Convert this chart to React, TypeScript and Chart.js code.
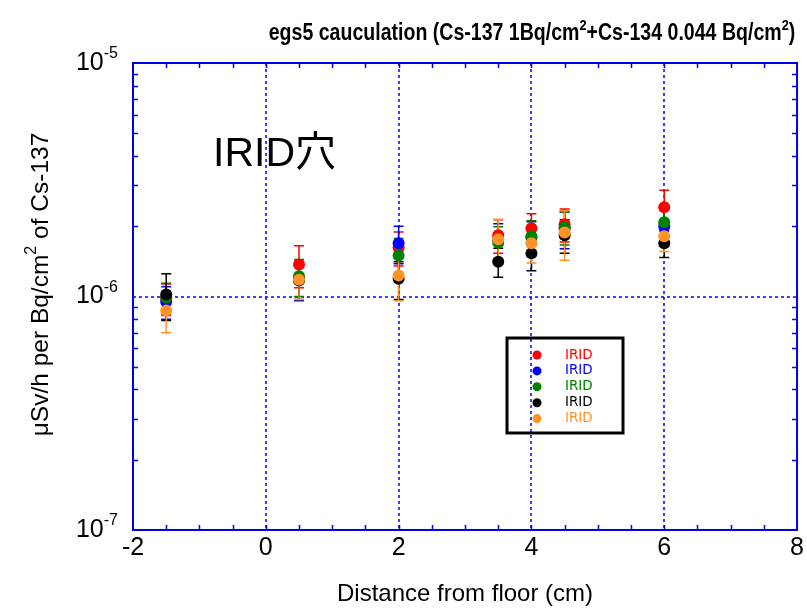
import React, { useEffect, useRef } from "react";
import { Chart, registerables } from "chart.js";

Chart.register(...registerables);

// ---- data ----
const distances = [-1.5, 0.5, 2, 3.5, 4, 4.5, 6];
const seriesLabels = ["IRID", "IRID", "IRID", "IRID", "IRID"];
const seriesColors = ["#ff0000", "#0000ff", "#008000", "#000000", "#ff9326"];
// values in units of 1e-6 µSv/h per Bq/cm2
const redValues = [0.98, 1.37, 1.62, 1.83, 1.96, 2.04, 2.41];
const blueValues = [0.95, 1.18, 1.69, 1.75, 1.79, 1.95, 2.0];
const greenValues = [0.99, 1.22, 1.5, 1.7, 1.81, 1.98, 2.08];
const blackValues = [1.02, 1.17, 1.19, 1.41, 1.53, 1.83, 1.69];
const orangeValues = [0.87, 1.18, 1.23, 1.76, 1.69, 1.88, 1.81];
const redErrors = [0.15, 0.28, 0.27, 0.3, 0.3, 0.33, 0.44];
const blueErrors = [0.15, 0.22, 0.31, 0.3, 0.3, 0.35, 0.35];
const greenErrors = [0.15, 0.22, 0.27, 0.29, 0.3, 0.32, 0.35];
const blackErrors = [0.23, 0.2, 0.22, 0.2, 0.24, 0.3, 0.22];
const orangeErrors = [0.17, 0.21, 0.27, 0.38, 0.3, 0.45, 0.25];
const unitScale = 1e-6;
const xMin = -2;
const xMax = 8;
const xStep = 2;
const xMinorStep = 0.5;
const yMin = 1e-7;
const yMax = 1e-5;
const yTickExponents = [-5, -6, -7];
const xGridValues = [0, 2, 4, 6];
const yGridValues = [1e-6];
const titleParts: [string, boolean][] = [
  ["egs5 cauculation (Cs-137 1Bq/cm", false],
  ["2", true],
  ["+Cs-134 0.044 Bq/cm", false],
  ["2", true],
  [")", false],
];
const yTitleParts: [string, boolean][] = [
  ["\u03bcSv/h per Bq/cm", false],
  ["2", true],
  [" of Cs-137", false],
];
const xTitle = "Distance from floor (cm)";
const annotationText = "IRID\u7a74";

const seriesValues = [redValues, blueValues, greenValues, blackValues, orangeValues];
const seriesErrors = [redErrors, blueErrors, greenErrors, blackErrors, orangeErrors];

const FONT = "'Liberation Sans', Arial, 'Noto Sans CJK JP', sans-serif";
const AXIS_BLUE = "#0000e6";

function drawParts(
  ctx: CanvasRenderingContext2D,
  parts: [string, boolean][],
  x: number,
  y: number,
  mainFont: string,
  supFont: string,
  supRaise: number,
  align: "left" | "center" | "right"
) {
  let total = 0;
  const widths = parts.map(([t, sup]) => {
    ctx.font = sup ? supFont : mainFont;
    const w = ctx.measureText(t).width;
    total += w;
    return w;
  });
  let cx = align === "left" ? x : align === "center" ? x - total / 2 : x - total;
  ctx.textAlign = "left";
  ctx.textBaseline = "middle";
  parts.forEach(([t, sup], i) => {
    ctx.font = sup ? supFont : mainFont;
    ctx.fillText(t, cx, sup ? y - supRaise : y);
    cx += widths[i];
  });
}

const decorPlugin = {
  id: "decor",
  beforeDatasetsDraw(chart: any) {
    const { ctx, chartArea: a, scales } = chart;
    const xs = scales.x;
    const ys = scales.y;
    ctx.save();
    // dashed grid lines
    ctx.strokeStyle = "#0000ff";
    ctx.lineWidth = 1.5;
    ctx.setLineDash([3, 3]);
    xGridValues.forEach((v) => {
      const px = Math.round(xs.getPixelForValue(v));
      ctx.beginPath();
      ctx.moveTo(px, a.top);
      ctx.lineTo(px, a.bottom);
      ctx.stroke();
    });
    yGridValues.forEach((v) => {
      const py = Math.round(ys.getPixelForValue(v));
      ctx.beginPath();
      ctx.moveTo(a.left, py);
      ctx.lineTo(a.right, py);
      ctx.stroke();
    });
    ctx.setLineDash([]);
    // error bars
    [0, 1, 2, 3, 4].forEach((si) => {
      ctx.strokeStyle = seriesColors[si];
      ctx.lineWidth = 1.5;
      distances.forEach((d, j) => {
        const v = seriesValues[si][j] * unitScale;
        const e = seriesErrors[si][j] * unitScale;
        const px = xs.getPixelForValue(d);
        const pTop = ys.getPixelForValue(v + e);
        const pBot = ys.getPixelForValue(v - e);
        ctx.beginPath();
        ctx.moveTo(px, pTop);
        ctx.lineTo(px, pBot);
        ctx.moveTo(px - 5, pTop);
        ctx.lineTo(px + 5, pTop);
        ctx.moveTo(px - 5, pBot);
        ctx.lineTo(px + 5, pBot);
        ctx.stroke();
      });
    });
    ctx.restore();
  },
  afterDatasetsDraw(chart: any) {
    const { ctx, chartArea: a, scales } = chart;
    const xs = scales.x;
    const ys = scales.y;
    ctx.save();
    // frame
    ctx.strokeStyle = AXIS_BLUE;
    ctx.lineWidth = 2;
    ctx.strokeRect(a.left, a.top, a.right - a.left, a.bottom - a.top);
    // inner ticks
    ctx.lineWidth = 1.5;
    ctx.beginPath();
    for (let v = xMin + xMinorStep; v < xMax - 1e-9; v += xMinorStep) {
      const px = Math.round(xs.getPixelForValue(v)) + 0.5;
      ctx.moveTo(px, a.bottom);
      ctx.lineTo(px, a.bottom - 5);
      ctx.moveTo(px, a.top);
      ctx.lineTo(px, a.top + 5);
    }
    for (let e = -7; e < -5; e++) {
      for (let k = 2; k <= 9; k++) {
        const py = Math.round(ys.getPixelForValue(k * Math.pow(10, e))) + 0.5;
        ctx.moveTo(a.left, py);
        ctx.lineTo(a.left + 5, py);
        ctx.moveTo(a.right, py);
        ctx.lineTo(a.right - 5, py);
      }
    }
    ctx.stroke();

    // y tick labels with superscripts
    ctx.fillStyle = "#000";
    yTickExponents.forEach((ex) => {
      const py = ys.getPixelForValue(Math.pow(10, ex));
      drawParts(
        ctx,
        [["10", false], [String(ex), true]],
        a.left - 15,
        py,
        `25px ${FONT}`,
        `16px ${FONT}`,
        9,
        "right"
      );
    });

    // y title (rotated)
    ctx.save();
    ctx.translate(41, (a.top + a.bottom) / 2 - 12);
    ctx.rotate(-Math.PI / 2);
    drawParts(ctx, yTitleParts, 0, 0, `24.5px ${FONT}`, `16px ${FONT}`, 9, "center");
    ctx.restore();

    // chart title (condensed bold)
    ctx.save();
    ctx.translate(532, 34);
    ctx.scale(0.85, 1);
    drawParts(ctx, titleParts, 0, 0, `bold 23px ${FONT}`, `bold 15px ${FONT}`, 8, "center");
    ctx.restore();

    // annotation
    ctx.font = `41px ${FONT}`;
    ctx.textAlign = "left";
    ctx.textBaseline = "middle";
    ctx.fillText(annotationText, a.left + 80, a.top + 92);

    // legend box
    const lx = a.left + 374;
    const ly = a.top + 275;
    ctx.strokeStyle = "#000";
    ctx.lineWidth = 3;
    ctx.strokeRect(lx, ly, 116, 95);
    const ds = chart.data.datasets;
    ds.forEach((d: any, i: number) => {
      const ry = ly + 17 + i * 15.9;
      ctx.fillStyle = d.backgroundColor;
      ctx.beginPath();
      ctx.arc(lx + 30, ry, 4.5, 0, Math.PI * 2);
      ctx.fill();
      ctx.font = `13.5px 'DejaVu Sans', sans-serif`;
      ctx.textAlign = "left";
      ctx.textBaseline = "middle";
      ctx.fillText(d.label, lx + 58, ry);
    });
    ctx.restore();
  },
};

export default function App() {
  const canvasRef = useRef<HTMLCanvasElement | null>(null);
  useEffect(() => {
    const canvas = canvasRef.current;
    if (!canvas) return;
    const datasets = seriesValues.map((vals, i) => ({
      label: seriesLabels[i],
      data: distances.map((x, j) => ({ x, y: vals[j] * unitScale })),
      backgroundColor: seriesColors[i],
      borderColor: seriesColors[i],
      pointRadius: 6,
      pointBorderWidth: 0,
      showLine: false,
      order: seriesValues.length - i,
    }));
    const chart = new Chart(canvas, {
      type: "scatter",
      data: { datasets },
      options: {
        animation: false,
        responsive: false,
        maintainAspectRatio: false,
        devicePixelRatio: 1,
        layout: { padding: { top: 63, right: 8, left: 0, bottom: 0 } },
        plugins: {
          legend: { display: false },
          tooltip: { enabled: false },
          title: { display: false },
        },
        scales: {
          x: {
            type: "linear",
            min: xMin,
            max: xMax,
            ticks: {
              stepSize: xStep,
              color: "#000",
              font: { family: FONT, size: 25 },
              padding: 3,
            },
            grid: { display: false, drawTicks: false },
            border: { display: false },
            title: {
              display: true,
              text: xTitle,
              color: "#000",
              font: { family: FONT, size: 24 },
              padding: { top: 0, bottom: 0 },
            },
            afterFit: (s: any) => {
              s.height = 79;
            },
          },
          y: {
            type: "logarithmic",
            min: yMin,
            max: yMax,
            ticks: { display: false },
            grid: { display: false, drawTicks: false },
            border: { display: false },
            afterFit: (s: any) => {
              s.width = 133;
            },
          },
        },
      } as any,
      plugins: [decorPlugin],
    });
    return () => chart.destroy();
  }, []);
  return (
    <div style={{ position: "fixed", left: 0, top: 0, width: 807, height: 609, background: "#fff" }}>
      <canvas ref={canvasRef} width={807} height={609} style={{ width: 807, height: 609 }} />
    </div>
  );
}
